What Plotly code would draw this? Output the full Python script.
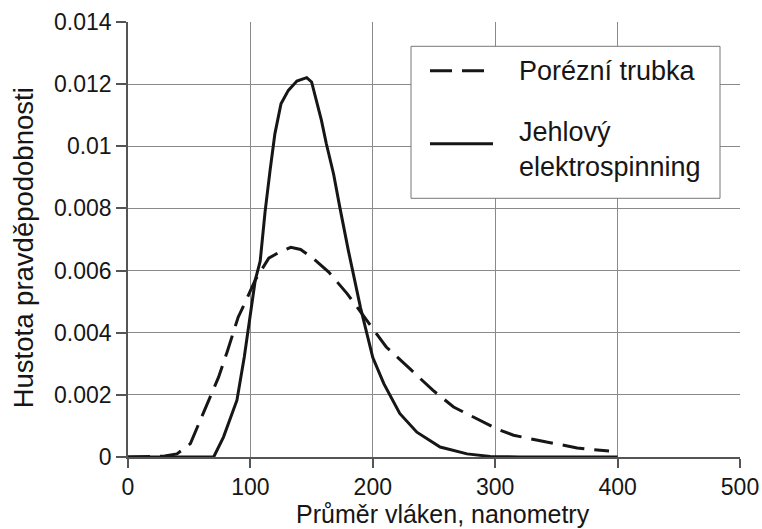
import plotly.graph_objects as go

# Data
x_porezni = [0, 30, 40, 51, 59, 67, 74, 81, 86, 90, 96, 104, 115, 124, 133, 141, 151, 164,
             179, 195, 211, 230, 249, 266, 280, 290, 301, 315, 328, 342, 356, 367, 378, 393]
y_porezni = [0, 0.00003, 0.0001, 0.00043, 0.00118, 0.00193, 0.00257, 0.00338, 0.00397, 0.0045,
             0.005, 0.0057, 0.0064, 0.0066, 0.00675, 0.00668, 0.0064, 0.00595, 0.00526, 0.0044,
             0.00354, 0.00285, 0.00215, 0.00161, 0.00134, 0.00113, 0.00091, 0.0007, 0.00059,
             0.00048, 0.00038, 0.00029, 0.00024, 0.00019]

x_jehlovy = [0, 20, 40, 60, 70, 78, 89, 95, 99, 104, 108, 112, 116, 120, 125, 131, 138, 146,
             150, 154, 158, 162, 168, 173, 180, 190, 195, 200, 209, 222, 236, 255, 277, 296,
             320, 350, 400]
y_jehlovy = [0, 0, 0, 0, 0, 0.00064, 0.00183, 0.00322, 0.0043, 0.0057, 0.0063, 0.0079, 0.0092,
             0.0104, 0.01137, 0.0118, 0.0121, 0.01221, 0.01207, 0.01148, 0.01084, 0.01009,
             0.0091, 0.00805, 0.00665, 0.0048, 0.00397, 0.0032, 0.00236, 0.0014, 0.0008,
             0.00032, 0.0001, 0.00002, 0, 0, 0]

x_tickvals = [0, 100, 200, 300, 400, 500]
x_ticktext = ["0", "100", "200", "300", "400", "500"]
y_tickvals = [0, 0.002, 0.004, 0.006, 0.008, 0.01, 0.012, 0.014]
y_ticktext = ["0", "0.002", "0.004", "0.006", "0.008", "0.01", "0.012", "0.014"]

name_porezni = "Porézní trubka"
name_jehlovy = "Jehlový<br>elektrospinning"
x_title = "Průměr vláken, nanometry"
y_title = "Hustota pravděpodobnosti"

FONT = "Liberation Sans, Arial, Helvetica, sans-serif"
INK = "#161616"
DASH = "22px,10px"

# plot area in pixels (for converting legend placement to paper coords)
L, R, T, B = 128, 740, 21.7, 456.7
def px(xp):
    return (xp - L) / (R - L)
def py(yp):
    return (B - yp) / (B - T)

fig = go.Figure()
fig.add_trace(go.Scatter(x=x_porezni, y=y_porezni, mode="lines", name=name_porezni,
                         showlegend=False,
                         line=dict(color=INK, width=3, dash=DASH)))
fig.add_trace(go.Scatter(x=x_jehlovy, y=y_jehlovy, mode="lines", name=name_jehlovy,
                         showlegend=False,
                         line=dict(color=INK, width=3)))

# Legend drawn as a boxed key
shapes = [
    dict(type="rect", xref="paper", yref="paper", x0=px(411), x1=px(720), y0=py(198), y1=py(46),
         line=dict(color="#777777", width=1), fillcolor="white", layer="above"),
    dict(type="line", xref="paper", yref="paper", x0=px(430), x1=px(488), y0=py(70.5), y1=py(70.5),
         line=dict(color=INK, width=3, dash=DASH), layer="above"),
    dict(type="line", xref="paper", yref="paper", x0=px(430), x1=px(493), y0=py(143.5), y1=py(143.5),
         line=dict(color=INK, width=3), layer="above"),
]
annotations = [
    dict(text=name_porezni, xref="paper", yref="paper", x=px(517), y=py(71),
         xanchor="left", yanchor="middle", showarrow=False, align="left",
         font=dict(size=27, color=INK, family=FONT)),
    dict(text=name_jehlovy, xref="paper", yref="paper", x=px(517), y=py(149),
         xanchor="left", yanchor="middle", showarrow=False, align="left",
         font=dict(size=27, color=INK, family=FONT)),
    dict(text=x_title, xref="paper", yref="paper", x=px(443), y=py(514),
         xanchor="center", yanchor="middle", showarrow=False,
         font=dict(size=25, color=INK, family=FONT)),
    dict(text=y_title, xref="paper", yref="paper", x=px(23), y=py(248),
         xanchor="center", yanchor="middle", showarrow=False, textangle=-90,
         font=dict(size=27.5, color=INK, family=FONT)),
]

fig.update_layout(
    width=762, height=529,
    margin=dict(l=128, r=22, t=22, b=72),
    paper_bgcolor="white", plot_bgcolor="white",
    font=dict(family=FONT, size=23, color=INK),
    showlegend=False,
    shapes=shapes,
    annotations=annotations,
    xaxis=dict(range=[0, 500], tickvals=x_tickvals, ticktext=x_ticktext,
               automargin=False,
               showgrid=True, gridcolor="#8a8a8a", gridwidth=1,
               showline=True, linecolor="#555555", linewidth=1.5,
               ticks="outside", ticklen=9, tickcolor="#555555", tickwidth=1.5,
               zeroline=False, tickfont=dict(size=23, color=INK)),
    yaxis=dict(range=[0, 0.014], tickvals=y_tickvals, ticktext=y_ticktext,
               automargin=False,
               showgrid=True, gridcolor="#8a8a8a", gridwidth=1,
               showline=True, linecolor="#555555", linewidth=1.5,
               ticks="outside", ticklen=10, tickcolor="#555555", tickwidth=1.5,
               zeroline=False, tickfont=dict(size=23, color=INK)),
)

fig.write_html("out.html")
